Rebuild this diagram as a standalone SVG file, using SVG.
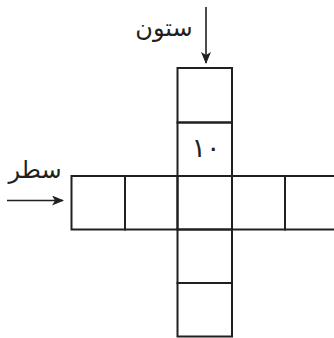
<svg xmlns="http://www.w3.org/2000/svg" width="334" height="338" viewBox="0 0 334 338">
<style>
.cell{fill:none;stroke:#231f20;stroke-width:2}
.lbl{font-family:"DejaVu Sans","Noto Sans",sans-serif;fill:#231f20}
.arr{stroke:#231f20;stroke-width:1.6;fill:none}
</style>
<defs>
<marker id="ah" markerWidth="12" markerHeight="10" refX="11" refY="5" orient="auto" markerUnits="userSpaceOnUse">
<path d="M0,0 L12,5 L0,10 L3,5 Z" fill="#231f20"/>
</marker>
</defs>
<rect width="334" height="338" fill="#ffffff"/>
<g id="col-1"><rect class="cell" x="177.5" y="68" width="54.5" height="54.5"/></g>
<g id="col-2"><rect class="cell" x="177.5" y="122.5" width="54.5" height="53.5"/>
<text class="lbl" x="206" y="157" font-size="27" text-anchor="middle" direction="rtl">۱۰</text></g>
<g id="row-1"><rect class="cell" x="71.5" y="176" width="53.5" height="53.5"/></g>
<g id="row-2"><rect class="cell" x="125" y="176" width="52.5" height="53.5"/></g>
<g id="center"><rect class="cell" x="177.5" y="176" width="54.5" height="53.5"/></g>
<g id="row-4"><rect class="cell" x="232" y="176" width="53" height="53.5"/></g>
<g id="row-5"><rect class="cell" x="285" y="176" width="54" height="53.5"/></g>
<g id="col-4"><rect class="cell" x="177.5" y="229.5" width="54.5" height="53.5"/></g>
<g id="col-5"><rect class="cell" x="177.5" y="283" width="54.5" height="53.5"/></g>
<g id="connectors">
<line class="arr" x1="206" y1="7" x2="206" y2="63" marker-end="url(#ah)"/>
<line class="arr" x1="7" y1="200.5" x2="63" y2="200.5" marker-end="url(#ah)"/>
</g>
<g id="labels">
<text class="lbl" x="164" y="36" font-size="24" text-anchor="middle" direction="rtl">ستون</text>
<text class="lbl" x="35" y="178" font-size="24" text-anchor="middle" direction="rtl">سطر</text>
</g>
</svg>
